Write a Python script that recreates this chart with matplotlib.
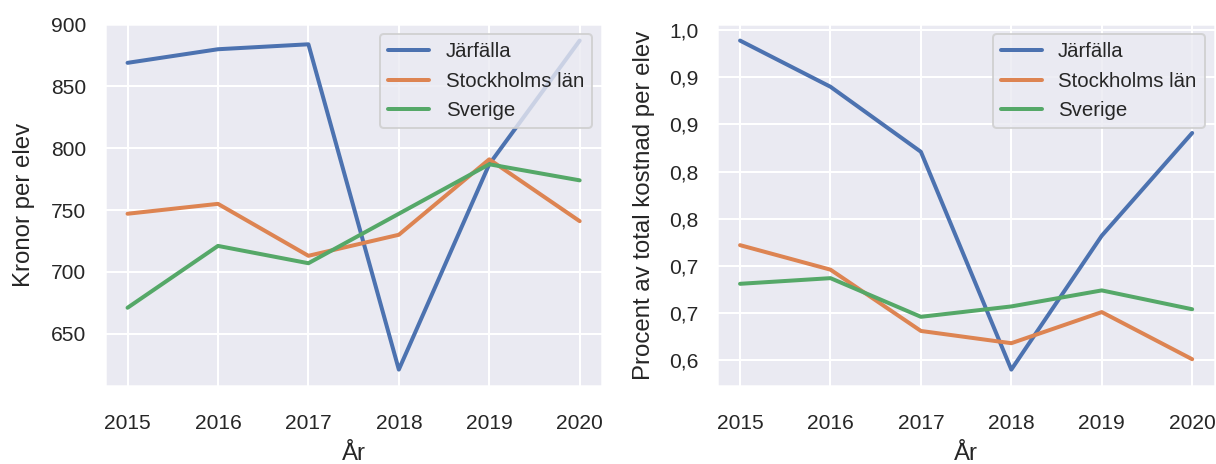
import matplotlib
matplotlib.use("Agg")
import matplotlib.pyplot as plt
import seaborn as sns

# data
years = [2015, 2016, 2017, 2018, 2019, 2020]

kr_jarfalla = [869, 880, 884, 621, 787, 887]
kr_stockholm = [747, 755, 713, 730, 791, 741]
kr_sverige = [671, 721, 707, 747, 787, 774]

pct_jarfalla = [0.939, 0.890, 0.821, 0.590, 0.732, 0.841]
pct_stockholm = [0.722, 0.696, 0.631, 0.618, 0.651, 0.601]
pct_sverige = [0.681, 0.687, 0.646, 0.657, 0.674, 0.654]

pct_ticks = [0.60, 0.65, 0.70, 0.75, 0.80, 0.85, 0.90, 0.95]
pct_ticklabels = ["0,6", "0,7", "0,7", "0,8", "0,8", "0,9", "0,9", "1,0"]

series_names = ["Järfälla", "Stockholms län", "Sverige"]

sns.set_theme()
plt.rcParams["font.family"] = ["Liberation Sans", "DejaVu Sans"]
plt.rcParams["xtick.labelsize"] = 10.5
plt.rcParams["ytick.labelsize"] = 10.5
plt.rcParams["axes.labelsize"] = 12
plt.rcParams["legend.fontsize"] = 10.2

fig = plt.figure(figsize=(1216 / 144, 464 / 144), dpi=144)
ax1 = fig.add_axes([0.0863, 0.168, 0.409, 0.780])
ax2 = fig.add_axes([0.590, 0.168, 0.409, 0.780])

for ax, data in [
    (ax1, [kr_jarfalla, kr_stockholm, kr_sverige]),
    (ax2, [pct_jarfalla, pct_stockholm, pct_sverige]),
]:
    for name, vals in zip(series_names, data):
        ax.plot(years, vals, label=name, linewidth=2)
    ax.set_xticks(years)
    ax.tick_params(axis="x", pad=8)
    ax.set_xlabel("År", labelpad=5)
    ax.legend(loc="upper right")

ax1.set_ylabel("Kronor per elev", labelpad=8)
ax1.set_yticks([650, 700, 750, 800, 850, 900])

ax2.set_ylabel("Procent av total kostnad per elev", labelpad=7)
ax2.set_yticks(pct_ticks)
ax2.set_yticklabels(pct_ticklabels)

fig.savefig("out.png", dpi=144)
